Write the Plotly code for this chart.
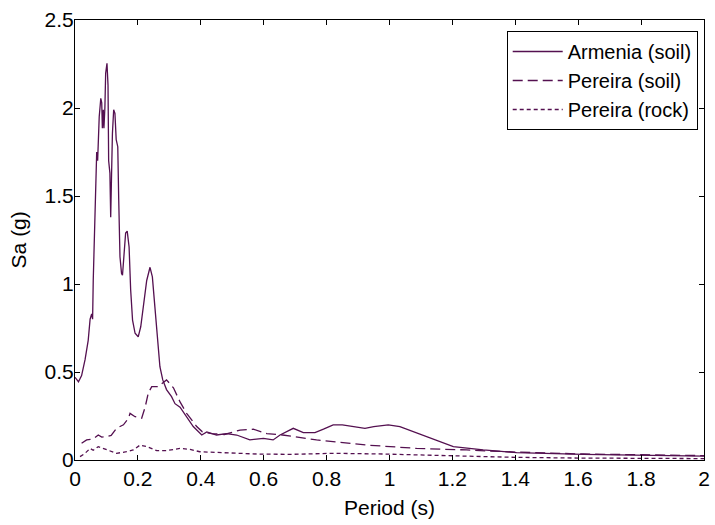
import plotly.graph_objects as go

# Armenia (soil)
arm_T = [0.0, 0.011, 0.021, 0.032, 0.042, 0.048, 0.053, 0.056, 0.058, 0.061, 0.067, 0.069, 0.072, 0.074, 0.077,
         0.082, 0.085, 0.087, 0.090, 0.092, 0.095, 0.0975, 0.1017, 0.105, 0.107, 0.111, 0.1135, 0.116, 0.119,
         0.123, 0.127, 0.131, 0.136, 0.139, 0.143, 0.148, 0.151, 0.156, 0.161, 0.166, 0.172, 0.177, 0.183,
         0.191, 0.201, 0.209, 0.217, 0.228, 0.2385, 0.246, 0.254, 0.262, 0.27, 0.279, 0.291, 0.307, 0.318,
         0.334, 0.355, 0.376, 0.403, 0.419, 0.45, 0.482, 0.514, 0.556, 0.599, 0.63, 0.652, 0.694, 0.726,
         0.763, 0.79, 0.821, 0.85, 0.885, 0.922, 0.95, 0.996, 1.033, 1.086, 1.139, 1.203, 1.298, 1.404,
         1.616, 1.828, 2.0]
arm_Sa = [0.47, 0.445, 0.48, 0.57, 0.68, 0.80, 0.83, 0.80, 1.02, 1.21, 1.50, 1.75, 1.70, 1.865, 1.95,
          2.055, 2.03, 1.885, 1.99, 1.885, 2.0, 2.197, 2.254, 2.13, 1.70, 1.63, 1.38, 1.60, 1.856,
          1.99, 1.97, 1.82, 1.78, 1.48, 1.155, 1.06, 1.05, 1.17, 1.29, 1.30, 1.21, 0.966, 0.795,
          0.72, 0.70, 0.757, 0.87, 1.02, 1.095, 1.04, 0.87, 0.72, 0.53, 0.455, 0.40, 0.36, 0.32,
          0.30, 0.246, 0.19, 0.142, 0.16, 0.142, 0.15, 0.142, 0.114, 0.123, 0.114, 0.142, 0.18, 0.155,
          0.155, 0.175, 0.20, 0.20, 0.19, 0.18, 0.19, 0.20, 0.19, 0.155, 0.117, 0.076, 0.057, 0.042,
          0.032, 0.025, 0.022]

# Pereira (soil)
pes_T = [0.021, 0.037, 0.058, 0.074, 0.085, 0.101, 0.115, 0.132, 0.154, 0.17, 0.175, 0.191, 0.212, 0.223,
         0.233, 0.244, 0.265, 0.291, 0.313, 0.334, 0.355, 0.387, 0.405, 0.435, 0.475, 0.525, 0.567, 0.61,
         0.66, 0.768, 0.927, 1.086, 1.245, 1.40, 1.616, 1.828, 2.0]
pes_Sa = [0.095, 0.114, 0.12, 0.142, 0.13, 0.133, 0.14, 0.18, 0.20, 0.237, 0.265, 0.246, 0.237, 0.30,
          0.38, 0.417, 0.417, 0.455, 0.41, 0.33, 0.265, 0.19, 0.16, 0.15, 0.145, 0.17, 0.175, 0.15,
          0.142, 0.114, 0.085, 0.066, 0.057, 0.045, 0.034, 0.028, 0.025]

# Pereira (rock)
per_T = [0.016, 0.032, 0.048, 0.058, 0.074, 0.101, 0.132, 0.164, 0.185, 0.207, 0.228, 0.26, 0.29, 0.334,
         0.366, 0.397, 0.472, 0.578, 0.684, 0.768, 0.821, 0.98, 1.2, 1.4, 1.6, 2.0]
per_Sa = [0.019, 0.038, 0.066, 0.055, 0.076, 0.057, 0.038, 0.047, 0.057, 0.085, 0.076, 0.053, 0.053, 0.066,
          0.06, 0.047, 0.042, 0.034, 0.032, 0.034, 0.038, 0.034, 0.023, 0.015, 0.011, 0.008]

x_ticks = [0, 0.2, 0.4, 0.6, 0.8, 1.0, 1.2, 1.4, 1.6, 1.8, 2.0]
x_labels = ["0", "0.2", "0.4", "0.6", "0.8", "1", "1.2", "1.4", "1.6", "1.8", "2"]
y_ticks = [0, 0.5, 1.0, 1.5, 2.0, 2.5]
y_labels = ["0", "0.5", "1", "1.5", "2", "2.5"]
x_title = "Period (s)"
y_title = "Sa (g)"

color = "#541050"
fig = go.Figure()
fig.add_trace(go.Scatter(x=arm_T, y=arm_Sa, mode="lines", name="Armenia (soil)",
                         line=dict(color=color, width=1.3)))
fig.add_trace(go.Scatter(x=pes_T, y=pes_Sa, mode="lines", name="Pereira (soil)",
                         line=dict(color=color, width=1.3, dash="10px,5px")))
fig.add_trace(go.Scatter(x=per_T, y=per_Sa, mode="lines", name="Pereira (rock)",
                         line=dict(color=color, width=1.3, dash="4px,3px")))

font = "Liberation Sans, Arial, sans-serif"
axis_common = dict(showline=True, linecolor="black", linewidth=1, mirror="ticks",
                   ticks="inside", ticklen=5, tickcolor="black", showgrid=False, zeroline=False,
                   automargin=False,
                   tickfont=dict(family=font, size=21, color="black"))
fig.update_layout(
    width=715, height=525,
    margin=dict(l=75, r=11, t=20, b=65),
    paper_bgcolor="white", plot_bgcolor="white",
    font=dict(family=font, size=21, color="black"),
    xaxis=dict(range=[0, 2], tickvals=x_ticks, ticktext=x_labels, ticklabelstandoff=0,
               ticklabeloverflow="allow", **axis_common),
    yaxis=dict(range=[0, 2.5], tickvals=y_ticks, ticktext=y_labels, ticklabelstandoff=-4,
               ticklabeloverflow="allow", **axis_common),
    legend=dict(x=0.99, y=0.975, xanchor="right", yanchor="top", bordercolor="black", borderwidth=1,
                bgcolor="white", font=dict(family=font, size=20), tracegroupgap=0,
                itemwidth=50),
    showlegend=True,
    annotations=[
        dict(text=x_title, xref="paper", yref="paper", x=0.5, y=-0.108, xanchor="center", yanchor="middle",
             showarrow=False, font=dict(family=font, size=21, color="black")),
        dict(text=y_title, xref="paper", yref="paper", x=-0.09, y=0.5, xanchor="center", yanchor="middle",
             textangle=-90, showarrow=False, font=dict(family=font, size=21, color="black")),
    ],
)
fig.write_html("out.html", config={"displayModeBar": False},
               post_script="document.body.style.margin='0';")
